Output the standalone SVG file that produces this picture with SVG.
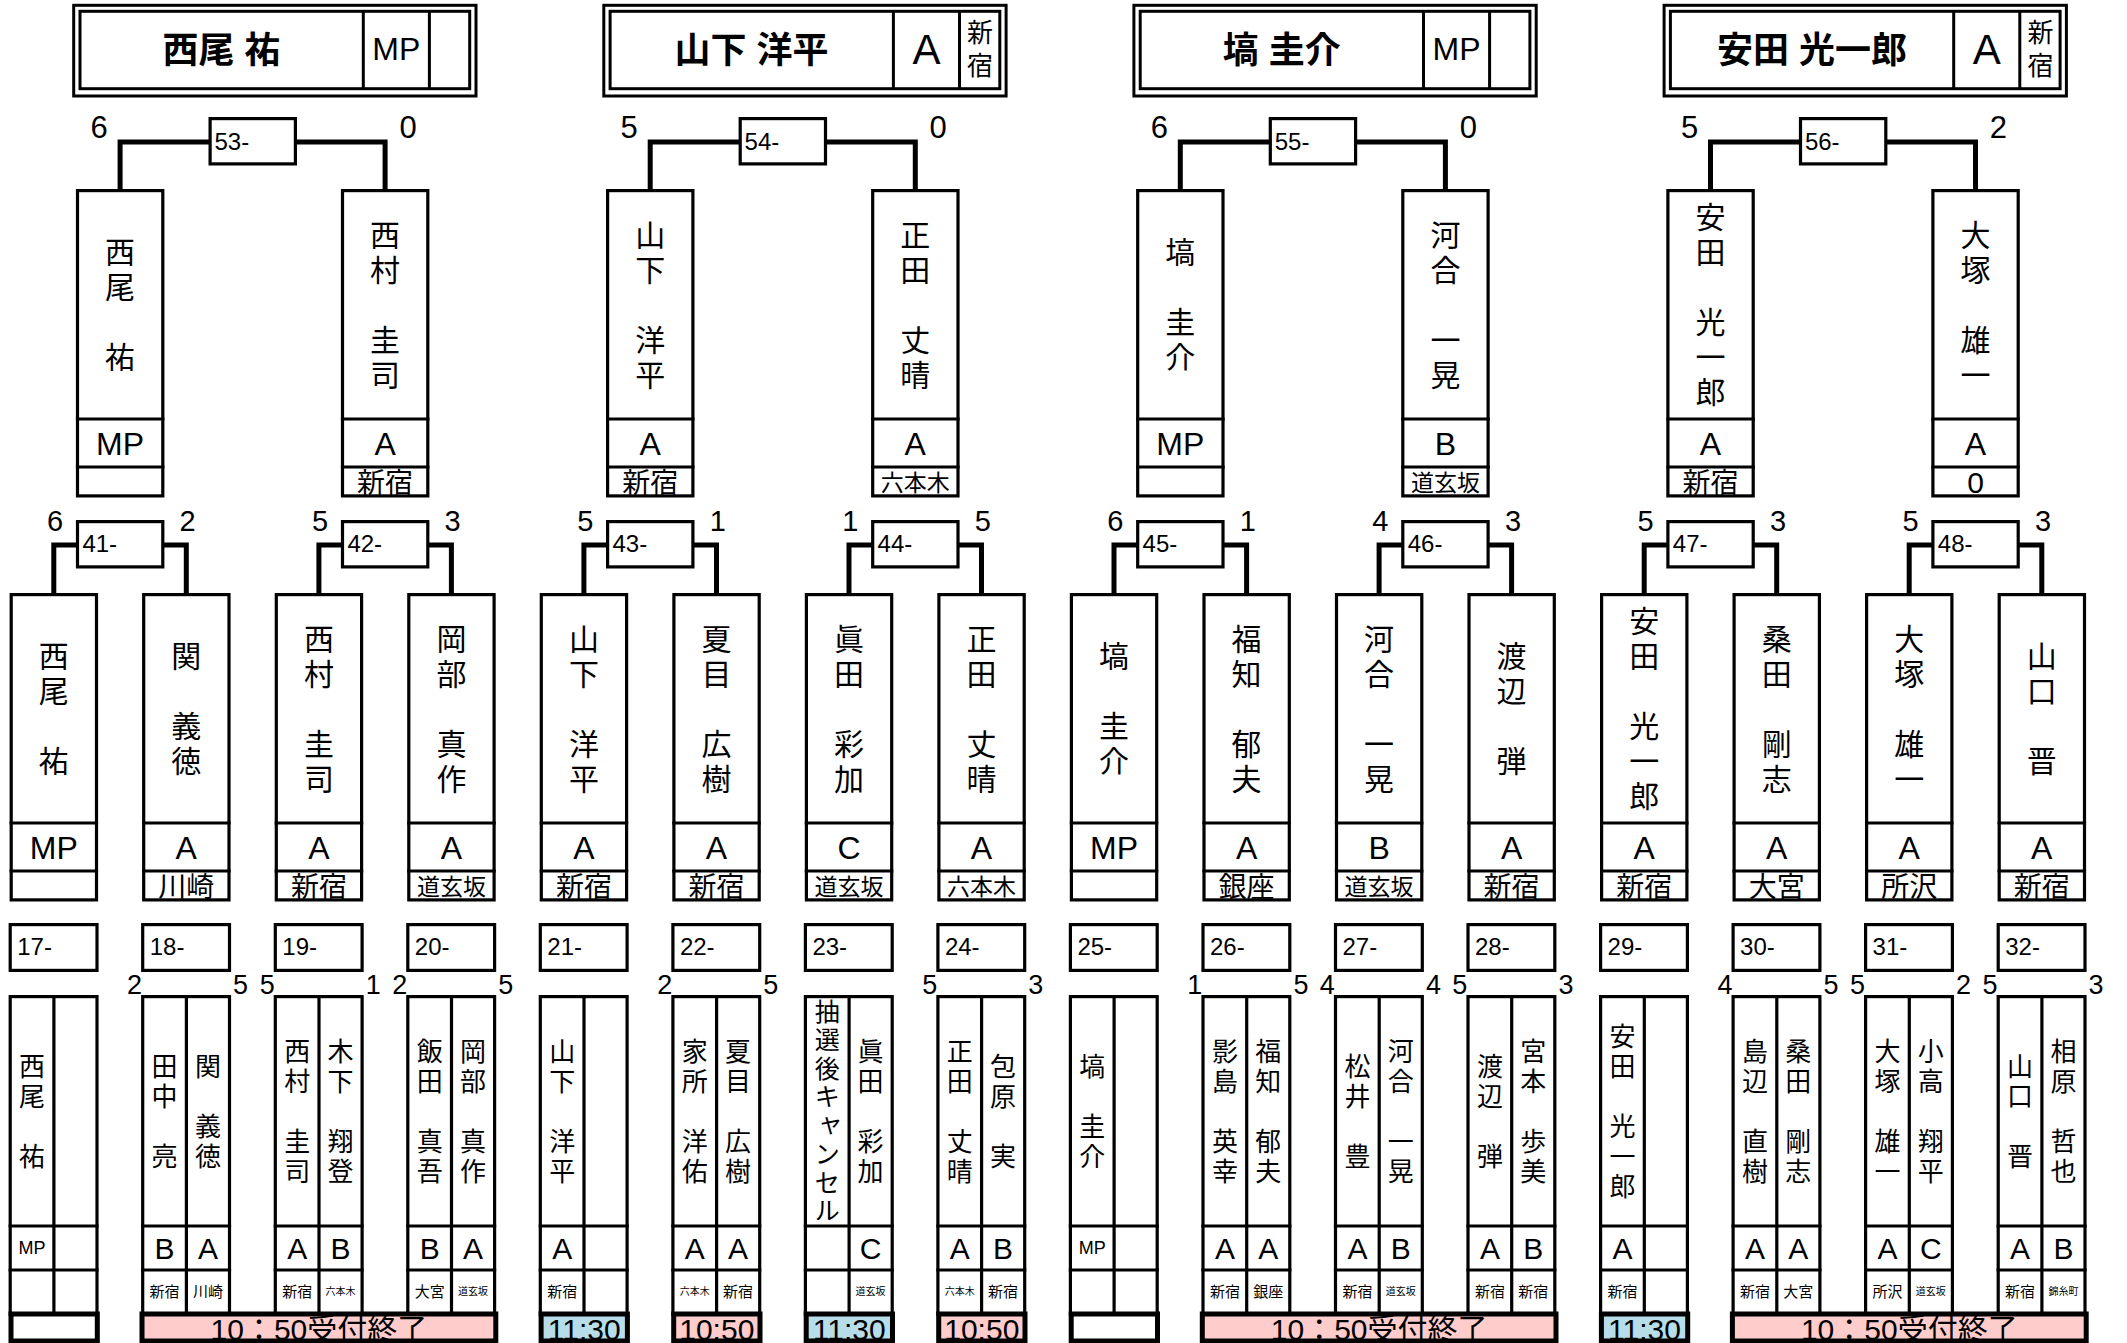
<svg xmlns="http://www.w3.org/2000/svg" width="2127" height="1343" viewBox="0 0 2127 1343">
<defs>
<style>
.fr{fill:#fff;stroke:#000;stroke-width:3.2}
.ln{fill:none;stroke:#000;stroke-width:3.2}
.cn{fill:none;stroke:#000;stroke-width:5}
.tl{fill:none;stroke:#000;stroke-width:3}
.la{font-family:"Liberation Sans","Noto Sans CJK JP",sans-serif;fill:#000}
.jp{font-family:"Noto Sans CJK JP",sans-serif;fill:#000}
.m{text-anchor:middle}
.e{text-anchor:end}
.n1{font-size:30px}
.n2{font-size:26px}
.g1{font-size:32px}
.g2{font-size:30px}
.g3{font-size:18px}
.sc{font-size:31px}
.sm{font-size:29px}
.sb{font-size:27px}
.lb{font-size:24px}
.r1{font-size:28px}
.r2{font-size:23px}
.r3{font-size:15px}
.r4{font-size:10px}
.bar{stroke:#000;stroke-width:5}
.pk{fill:#FFCCCC}
.bl{fill:#B7DEE8}
.wh{fill:#fff}
</style>
<g id="nf"><rect class="fr" x="1.6" y="1.6" width="85.3" height="305.3"/><path class="ln" d="M0 230H88.5M0 278H88.5"/></g>
<g id="pf"><rect class="fr" x="1.6" y="1.6" width="86.8" height="318"/><path class="ln" d="M45.3 0V320M0 231H90M0 275H90"/></g>
<rect id="mb" class="fr" x="1.6" y="1.6" width="85.3" height="45.3"/>
<rect id="bm" class="fr" x="1.6" y="1.6" width="86.8" height="45.8"/>
<g id="tf"><rect x="73.7" y="5.3" width="402.3" height="90.7" fill="#fff" stroke="#000" stroke-width="3"/><rect class="tl" x="80" y="11.3" width="389.7" height="77.4"/><path class="tl" d="M363.3 11.3V88.7M429.4 11.3V88.7"/></g>
</defs>
<rect width="2127" height="1343" fill="#fff"/>

<g id="connectors">
<path class="cn" d="M120.1 190V142H209.5M296 142H385.1V190"/>
<path class="cn" d="M650.2 190V142H739.6M826.1 142H915.3V190"/>
<path class="cn" d="M1180.3 190V142H1269.7M1356.2 142H1445.4V190"/>
<path class="cn" d="M1710.5 190V142H1799.9M1886.4 142H1975.5V190"/>
<path class="cn" d="M53.8 594V545H77M163 545H186.3V594"/>
<path class="cn" d="M318.9 594V545H342M428 545H451.4V594"/>
<path class="cn" d="M583.9 594V545H607M693.5 545H716.5V594"/>
<path class="cn" d="M849 594V545H872M958.6 545H981.5V594"/>
<path class="cn" d="M1114 594V545H1137M1223.6 545H1246.6V594"/>
<path class="cn" d="M1379.1 594V545H1402M1488.7 545H1511.6V594"/>
<path class="cn" d="M1644.2 594V545H1667M1753.8 545H1776.7V594"/>
<path class="cn" d="M1909.2 594V545H1932M2018.8 545H2041.8V594"/>
</g>

<!-- titles -->
<g id="title-1"><use href="#tf"/><text class="la m" x="221.5" y="62.7" font-size="36" font-weight="bold">西尾 祐</text><text class="la m g1" x="396.3" y="60">MP</text></g>
<g id="title-2" transform="translate(530.1,0)"><use href="#tf"/><text class="la m" x="221.5" y="62.7" font-size="36" font-weight="bold">山下 洋平</text><text class="la m" x="396.3" y="63.5" font-size="42">A</text><text class="jp m" font-size="26"><tspan x="450" y="41.9">新</tspan><tspan x="450" y="74.9">宿</tspan></text></g>
<g id="title-3" transform="translate(1060.2,0)"><use href="#tf"/><text class="la m" x="221.5" y="62.7" font-size="36" font-weight="bold">塙 圭介</text><text class="la m g1" x="396.3" y="60">MP</text></g>
<g id="title-4" transform="translate(1590.4,0)"><use href="#tf"/><text class="la m" x="221.5" y="62.7" font-size="36" font-weight="bold">安田 光一郎</text><text class="la m" x="396.3" y="63.5" font-size="42">A</text><text class="jp m" font-size="26"><tspan x="450" y="41.9">新</tspan><tspan x="450" y="74.9">宿</tspan></text></g>

<!-- top matches -->
<g id="m53" transform="translate(208.5,0)"><use href="#mb" y="117"/><text class="la lb" x="6" y="150">53-</text><text class="la m sc" x="-109.4" y="138">6</text><text class="la m sc" x="199.6" y="138">0</text></g>
<g id="m54" transform="translate(738.6,0)"><use href="#mb" y="117"/><text class="la lb" x="6" y="150">54-</text><text class="la m sc" x="-109.4" y="138">5</text><text class="la m sc" x="199.6" y="138">0</text></g>
<g id="m55" transform="translate(1268.7,0)"><use href="#mb" y="117"/><text class="la lb" x="6" y="150">55-</text><text class="la m sc" x="-109.4" y="138">6</text><text class="la m sc" x="199.6" y="138">0</text></g>
<g id="m56" transform="translate(1798.9,0)"><use href="#mb" y="117"/><text class="la lb" x="6" y="150">56-</text><text class="la m sc" x="-109.4" y="138">5</text><text class="la m sc" x="199.6" y="138">2</text></g>

<!-- top nodes -->
<g id="t53a" transform="translate(75.9,0)"><use href="#nf" y="189"/><text class="jp m n1"><tspan x="44.2" y="263.4">西</tspan><tspan x="44.2" y="298.4">尾</tspan><tspan x="44.2" y="368.4">祐</tspan></text><text class="la m g1" x="44.2" y="454.5">MP</text></g>
<g id="t53b" transform="translate(340.9,0)"><use href="#nf" y="189"/><text class="jp m n1"><tspan x="44.2" y="245.9">西</tspan><tspan x="44.2" y="280.9">村</tspan><tspan x="44.2" y="350.9">圭</tspan><tspan x="44.2" y="385.9">司</tspan></text><text class="la m g1" x="44.2" y="454.5">A</text><text class="jp m r1" x="44.2" y="492.8">新宿</text></g>
<g id="t54a" transform="translate(606,0)"><use href="#nf" y="189"/><text class="jp m n1"><tspan x="44.2" y="245.9">山</tspan><tspan x="44.2" y="280.9">下</tspan><tspan x="44.2" y="350.9">洋</tspan><tspan x="44.2" y="385.9">平</tspan></text><text class="la m g1" x="44.2" y="454.5">A</text><text class="jp m r1" x="44.2" y="492.8">新宿</text></g>
<g id="t54b" transform="translate(871.1,0)"><use href="#nf" y="189"/><text class="jp m n1"><tspan x="44.2" y="245.9">正</tspan><tspan x="44.2" y="280.9">田</tspan><tspan x="44.2" y="350.9">丈</tspan><tspan x="44.2" y="385.9">晴</tspan></text><text class="la m g1" x="44.2" y="454.5">A</text><text class="jp m r2" x="44.2" y="490.9">六本木</text></g>
<g id="t55a" transform="translate(1136.1,0)"><use href="#nf" y="189"/><text class="jp m n1"><tspan x="44.2" y="263.4">塙</tspan><tspan x="44.2" y="333.4">圭</tspan><tspan x="44.2" y="368.4">介</tspan></text><text class="la m g1" x="44.2" y="454.5">MP</text></g>
<g id="t55b" transform="translate(1401.2,0)"><use href="#nf" y="189"/><text class="jp m n1"><tspan x="44.2" y="245.9">河</tspan><tspan x="44.2" y="280.9">合</tspan><tspan x="44.2" y="350.9">一</tspan><tspan x="44.2" y="385.9">晃</tspan></text><text class="la m g1" x="44.2" y="454.5">B</text><text class="jp m r2" x="44.2" y="490.9">道玄坂</text></g>
<g id="t56a" transform="translate(1666.3,0)"><use href="#nf" y="189"/><text class="jp m n1"><tspan x="44.2" y="228.4">安</tspan><tspan x="44.2" y="263.4">田</tspan><tspan x="44.2" y="333.4">光</tspan><tspan x="44.2" y="368.4">一</tspan><tspan x="44.2" y="403.4">郎</tspan></text><text class="la m g1" x="44.2" y="454.5">A</text><text class="jp m r1" x="44.2" y="492.8">新宿</text></g>
<g id="t56b" transform="translate(1931.3,0)"><use href="#nf" y="189"/><text class="jp m n1"><tspan x="44.2" y="245.9">大</tspan><tspan x="44.2" y="280.9">塚</tspan><tspan x="44.2" y="350.9">雄</tspan><tspan x="44.2" y="385.9">一</tspan></text><text class="la m g1" x="44.2" y="454.5">A</text><text class="la m g2" x="44.2" y="492.9">0</text></g>

<!-- middle matches -->
<g id="m41" transform="translate(75.9,0)"><use href="#mb" y="520"/><text class="la lb" x="6.5" y="552">41-</text><text class="la m sm" x="-20.8" y="531">6</text><text class="la m sm" x="111.8" y="531">2</text></g>
<g id="m42" transform="translate(340.9,0)"><use href="#mb" y="520"/><text class="la lb" x="6.5" y="552">42-</text><text class="la m sm" x="-20.8" y="531">5</text><text class="la m sm" x="111.8" y="531">3</text></g>
<g id="m43" transform="translate(606,0)"><use href="#mb" y="520"/><text class="la lb" x="6.5" y="552">43-</text><text class="la m sm" x="-20.8" y="531">5</text><text class="la m sm" x="111.8" y="531">1</text></g>
<g id="m44" transform="translate(871.1,0)"><use href="#mb" y="520"/><text class="la lb" x="6.5" y="552">44-</text><text class="la m sm" x="-20.8" y="531">1</text><text class="la m sm" x="111.8" y="531">5</text></g>
<g id="m45" transform="translate(1136.1,0)"><use href="#mb" y="520"/><text class="la lb" x="6.5" y="552">45-</text><text class="la m sm" x="-20.8" y="531">6</text><text class="la m sm" x="111.8" y="531">1</text></g>
<g id="m46" transform="translate(1401.2,0)"><use href="#mb" y="520"/><text class="la lb" x="6.5" y="552">46-</text><text class="la m sm" x="-20.8" y="531">4</text><text class="la m sm" x="111.8" y="531">3</text></g>
<g id="m47" transform="translate(1666.3,0)"><use href="#mb" y="520"/><text class="la lb" x="6.5" y="552">47-</text><text class="la m sm" x="-20.8" y="531">5</text><text class="la m sm" x="111.8" y="531">3</text></g>
<g id="m48" transform="translate(1931.3,0)"><use href="#mb" y="520"/><text class="la lb" x="6.5" y="552">48-</text><text class="la m sm" x="-20.8" y="531">5</text><text class="la m sm" x="111.8" y="531">3</text></g>

<!-- middle nodes -->
<g id="q01" transform="translate(9.6,0)"><use href="#nf" y="593"/><text class="jp m n1"><tspan x="44.2" y="667.4">西</tspan><tspan x="44.2" y="702.4">尾</tspan><tspan x="44.2" y="772.4">祐</tspan></text><text class="la m g1" x="44.2" y="858.5">MP</text></g>
<g id="q02" transform="translate(142.1,0)"><use href="#nf" y="593"/><text class="jp m n1"><tspan x="44.2" y="667.4">関</tspan><tspan x="44.2" y="737.4">義</tspan><tspan x="44.2" y="772.4">徳</tspan></text><text class="la m g1" x="44.2" y="858.5">A</text><text class="jp m r1" x="44.2" y="896.8">川崎</text></g>
<g id="q03" transform="translate(274.7,0)"><use href="#nf" y="593"/><text class="jp m n1"><tspan x="44.2" y="649.9">西</tspan><tspan x="44.2" y="684.9">村</tspan><tspan x="44.2" y="754.9">圭</tspan><tspan x="44.2" y="789.9">司</tspan></text><text class="la m g1" x="44.2" y="858.5">A</text><text class="jp m r1" x="44.2" y="896.8">新宿</text></g>
<g id="q04" transform="translate(407.2,0)"><use href="#nf" y="593"/><text class="jp m n1"><tspan x="44.2" y="649.9">岡</tspan><tspan x="44.2" y="684.9">部</tspan><tspan x="44.2" y="754.9">真</tspan><tspan x="44.2" y="789.9">作</tspan></text><text class="la m g1" x="44.2" y="858.5">A</text><text class="jp m r2" x="44.2" y="894.9">道玄坂</text></g>
<g id="q05" transform="translate(539.7,0)"><use href="#nf" y="593"/><text class="jp m n1"><tspan x="44.2" y="649.9">山</tspan><tspan x="44.2" y="684.9">下</tspan><tspan x="44.2" y="754.9">洋</tspan><tspan x="44.2" y="789.9">平</tspan></text><text class="la m g1" x="44.2" y="858.5">A</text><text class="jp m r1" x="44.2" y="896.8">新宿</text></g>
<g id="q06" transform="translate(672.3,0)"><use href="#nf" y="593"/><text class="jp m n1"><tspan x="44.2" y="649.9">夏</tspan><tspan x="44.2" y="684.9">目</tspan><tspan x="44.2" y="754.9">広</tspan><tspan x="44.2" y="789.9">樹</tspan></text><text class="la m g1" x="44.2" y="858.5">A</text><text class="jp m r1" x="44.2" y="896.8">新宿</text></g>
<g id="q07" transform="translate(804.8,0)"><use href="#nf" y="593"/><text class="jp m n1"><tspan x="44.2" y="649.9">眞</tspan><tspan x="44.2" y="684.9">田</tspan><tspan x="44.2" y="754.9">彩</tspan><tspan x="44.2" y="789.9">加</tspan></text><text class="la m g1" x="44.2" y="858.5">C</text><text class="jp m r2" x="44.2" y="894.9">道玄坂</text></g>
<g id="q08" transform="translate(937.3,0)"><use href="#nf" y="593"/><text class="jp m n1"><tspan x="44.2" y="649.9">正</tspan><tspan x="44.2" y="684.9">田</tspan><tspan x="44.2" y="754.9">丈</tspan><tspan x="44.2" y="789.9">晴</tspan></text><text class="la m g1" x="44.2" y="858.5">A</text><text class="jp m r2" x="44.2" y="894.9">六本木</text></g>
<g id="q09" transform="translate(1069.8,0)"><use href="#nf" y="593"/><text class="jp m n1"><tspan x="44.2" y="667.4">塙</tspan><tspan x="44.2" y="737.4">圭</tspan><tspan x="44.2" y="772.4">介</tspan></text><text class="la m g1" x="44.2" y="858.5">MP</text></g>
<g id="q10" transform="translate(1202.4,0)"><use href="#nf" y="593"/><text class="jp m n1"><tspan x="44.2" y="649.9">福</tspan><tspan x="44.2" y="684.9">知</tspan><tspan x="44.2" y="754.9">郁</tspan><tspan x="44.2" y="789.9">夫</tspan></text><text class="la m g1" x="44.2" y="858.5">A</text><text class="jp m r1" x="44.2" y="896.8">銀座</text></g>
<g id="q11" transform="translate(1334.9,0)"><use href="#nf" y="593"/><text class="jp m n1"><tspan x="44.2" y="649.9">河</tspan><tspan x="44.2" y="684.9">合</tspan><tspan x="44.2" y="754.9">一</tspan><tspan x="44.2" y="789.9">晃</tspan></text><text class="la m g1" x="44.2" y="858.5">B</text><text class="jp m r2" x="44.2" y="894.9">道玄坂</text></g>
<g id="q12" transform="translate(1467.4,0)"><use href="#nf" y="593"/><text class="jp m n1"><tspan x="44.2" y="667.4">渡</tspan><tspan x="44.2" y="702.4">辺</tspan><tspan x="44.2" y="772.4">弾</tspan></text><text class="la m g1" x="44.2" y="858.5">A</text><text class="jp m r1" x="44.2" y="896.8">新宿</text></g>
<g id="q13" transform="translate(1600,0)"><use href="#nf" y="593"/><text class="jp m n1"><tspan x="44.2" y="632.4">安</tspan><tspan x="44.2" y="667.4">田</tspan><tspan x="44.2" y="737.4">光</tspan><tspan x="44.2" y="772.4">一</tspan><tspan x="44.2" y="807.4">郎</tspan></text><text class="la m g1" x="44.2" y="858.5">A</text><text class="jp m r1" x="44.2" y="896.8">新宿</text></g>
<g id="q14" transform="translate(1732.5,0)"><use href="#nf" y="593"/><text class="jp m n1"><tspan x="44.2" y="649.9">桑</tspan><tspan x="44.2" y="684.9">田</tspan><tspan x="44.2" y="754.9">剛</tspan><tspan x="44.2" y="789.9">志</tspan></text><text class="la m g1" x="44.2" y="858.5">A</text><text class="jp m r1" x="44.2" y="896.8">大宮</text></g>
<g id="q15" transform="translate(1865,0)"><use href="#nf" y="593"/><text class="jp m n1"><tspan x="44.2" y="649.9">大</tspan><tspan x="44.2" y="684.9">塚</tspan><tspan x="44.2" y="754.9">雄</tspan><tspan x="44.2" y="789.9">一</tspan></text><text class="la m g1" x="44.2" y="858.5">A</text><text class="jp m r1" x="44.2" y="896.8">所沢</text></g>
<g id="q16" transform="translate(1997.6,0)"><use href="#nf" y="593"/><text class="jp m n1"><tspan x="44.2" y="667.4">山</tspan><tspan x="44.2" y="702.4">口</tspan><tspan x="44.2" y="772.4">晋</tspan></text><text class="la m g1" x="44.2" y="858.5">A</text><text class="jp m r1" x="44.2" y="896.8">新宿</text></g>

<!-- bottom pairs -->
<g id="p17" transform="translate(8.6,0)"><use href="#bm" y="923"/><text class="la lb" x="8.6" y="955">17-</text><use href="#pf" y="995"/>
<text class="jp m n2"><tspan x="23.5" y="1075.9">西</tspan><tspan x="23.5" y="1105.9">尾</tspan><tspan x="23.5" y="1165.9">祐</tspan></text>
<text class="la m g3" x="23.5" y="1254.4">MP</text></g>

<g id="p18" transform="translate(141.1,0)"><use href="#bm" y="923"/><text class="la lb" x="8.6" y="955">18-</text><use href="#pf" y="995"/>
<text class="jp m n2"><tspan x="23.5" y="1075.9">田</tspan><tspan x="23.5" y="1105.9">中</tspan><tspan x="23.5" y="1165.9">亮</tspan></text>
<text class="jp m n2"><tspan x="66.8" y="1075.9">関</tspan><tspan x="66.8" y="1135.9">義</tspan><tspan x="66.8" y="1165.9">徳</tspan></text>
<text class="la m g2" x="23.5" y="1258.7">B</text><text class="la m g2" x="66.8" y="1258.7">A</text>
<text class="jp m r3" x="23.5" y="1297">新宿</text><text class="jp m r3" x="66.8" y="1297">川崎</text>
<text class="la e sb" x="1" y="994">2</text><text class="la sb" x="92" y="994">5</text></g>

<g id="p19" transform="translate(273.7,0)"><use href="#bm" y="923"/><text class="la lb" x="8.6" y="955">19-</text><use href="#pf" y="995"/>
<text class="jp m n2"><tspan x="23.5" y="1060.9">西</tspan><tspan x="23.5" y="1090.9">村</tspan><tspan x="23.5" y="1150.9">圭</tspan><tspan x="23.5" y="1180.9">司</tspan></text>
<text class="jp m n2"><tspan x="66.8" y="1060.9">木</tspan><tspan x="66.8" y="1090.9">下</tspan><tspan x="66.8" y="1150.9">翔</tspan><tspan x="66.8" y="1180.9">登</tspan></text>
<text class="la m g2" x="23.5" y="1258.7">A</text><text class="la m g2" x="66.8" y="1258.7">B</text>
<text class="jp m r3" x="23.5" y="1297">新宿</text><text class="jp m r4" x="66.8" y="1295.3">六本木</text>
<text class="la e sb" x="1" y="994">5</text><text class="la sb" x="92" y="994">1</text></g>

<g id="p20" transform="translate(406.2,0)"><use href="#bm" y="923"/><text class="la lb" x="8.6" y="955">20-</text><use href="#pf" y="995"/>
<text class="jp m n2"><tspan x="23.5" y="1060.9">飯</tspan><tspan x="23.5" y="1090.9">田</tspan><tspan x="23.5" y="1150.9">真</tspan><tspan x="23.5" y="1180.9">吾</tspan></text>
<text class="jp m n2"><tspan x="66.8" y="1060.9">岡</tspan><tspan x="66.8" y="1090.9">部</tspan><tspan x="66.8" y="1150.9">真</tspan><tspan x="66.8" y="1180.9">作</tspan></text>
<text class="la m g2" x="23.5" y="1258.7">B</text><text class="la m g2" x="66.8" y="1258.7">A</text>
<text class="jp m r3" x="23.5" y="1297">大宮</text><text class="jp m r4" x="66.8" y="1295.3">道玄坂</text>
<text class="la e sb" x="1" y="994">2</text><text class="la sb" x="92" y="994">5</text></g>

<g id="p21" transform="translate(538.7,0)"><use href="#bm" y="923"/><text class="la lb" x="8.6" y="955">21-</text><use href="#pf" y="995"/>
<text class="jp m n2"><tspan x="23.5" y="1060.9">山</tspan><tspan x="23.5" y="1090.9">下</tspan><tspan x="23.5" y="1150.9">洋</tspan><tspan x="23.5" y="1180.9">平</tspan></text>
<text class="la m g2" x="23.5" y="1258.7">A</text>
<text class="jp m r3" x="23.5" y="1297">新宿</text></g>

<g id="p22" transform="translate(671.3,0)"><use href="#bm" y="923"/><text class="la lb" x="8.6" y="955">22-</text><use href="#pf" y="995"/>
<text class="jp m n2"><tspan x="23.5" y="1060.9">家</tspan><tspan x="23.5" y="1090.9">所</tspan><tspan x="23.5" y="1150.9">洋</tspan><tspan x="23.5" y="1180.9">佑</tspan></text>
<text class="jp m n2"><tspan x="66.8" y="1060.9">夏</tspan><tspan x="66.8" y="1090.9">目</tspan><tspan x="66.8" y="1150.9">広</tspan><tspan x="66.8" y="1180.9">樹</tspan></text>
<text class="la m g2" x="23.5" y="1258.7">A</text><text class="la m g2" x="66.8" y="1258.7">A</text>
<text class="jp m r4" x="23.5" y="1295.3">六本木</text><text class="jp m r3" x="66.8" y="1297">新宿</text>
<text class="la e sb" x="1" y="994">2</text><text class="la sb" x="92" y="994">5</text></g>

<g id="p23" transform="translate(803.8,0)"><use href="#bm" y="923"/><text class="la lb" x="8.6" y="955">23-</text><use href="#pf" y="995"/>
<text class="jp m" font-size="25"><tspan x="23.5" y="1020.8">抽</tspan><tspan x="23.5" y="1049.3">選</tspan><tspan x="23.5" y="1077.8">後</tspan><tspan x="23.5" y="1106.3">キ</tspan><tspan x="26.5" y="1132.3">ャ</tspan><tspan x="23.5" y="1163.3">ン</tspan><tspan x="23.5" y="1191.8">セ</tspan><tspan x="23.5" y="1220.3">ル</tspan></text>
<text class="jp m n2"><tspan x="66.8" y="1060.9">眞</tspan><tspan x="66.8" y="1090.9">田</tspan><tspan x="66.8" y="1150.9">彩</tspan><tspan x="66.8" y="1180.9">加</tspan></text>
<text class="la m g2" x="66.8" y="1258.7">C</text>
<text class="jp m r4" x="66.8" y="1295.3">道玄坂</text></g>

<g id="p24" transform="translate(936.3,0)"><use href="#bm" y="923"/><text class="la lb" x="8.6" y="955">24-</text><use href="#pf" y="995"/>
<text class="jp m n2"><tspan x="23.5" y="1060.9">正</tspan><tspan x="23.5" y="1090.9">田</tspan><tspan x="23.5" y="1150.9">丈</tspan><tspan x="23.5" y="1180.9">晴</tspan></text>
<text class="jp m n2"><tspan x="66.8" y="1075.9">包</tspan><tspan x="66.8" y="1105.9">原</tspan><tspan x="66.8" y="1165.9">実</tspan></text>
<text class="la m g2" x="23.5" y="1258.7">A</text><text class="la m g2" x="66.8" y="1258.7">B</text>
<text class="jp m r4" x="23.5" y="1295.3">六本木</text><text class="jp m r3" x="66.8" y="1297">新宿</text>
<text class="la e sb" x="1" y="994">5</text><text class="la sb" x="92" y="994">3</text></g>

<g id="p25" transform="translate(1068.8,0)"><use href="#bm" y="923"/><text class="la lb" x="8.6" y="955">25-</text><use href="#pf" y="995"/>
<text class="jp m n2"><tspan x="23.5" y="1075.9">塙</tspan><tspan x="23.5" y="1135.9">圭</tspan><tspan x="23.5" y="1165.9">介</tspan></text>
<text class="la m g3" x="23.5" y="1254.4">MP</text></g>

<g id="p26" transform="translate(1201.4,0)"><use href="#bm" y="923"/><text class="la lb" x="8.6" y="955">26-</text><use href="#pf" y="995"/>
<text class="jp m n2"><tspan x="23.5" y="1060.9">影</tspan><tspan x="23.5" y="1090.9">島</tspan><tspan x="23.5" y="1150.9">英</tspan><tspan x="23.5" y="1180.9">幸</tspan></text>
<text class="jp m n2"><tspan x="66.8" y="1060.9">福</tspan><tspan x="66.8" y="1090.9">知</tspan><tspan x="66.8" y="1150.9">郁</tspan><tspan x="66.8" y="1180.9">夫</tspan></text>
<text class="la m g2" x="23.5" y="1258.7">A</text><text class="la m g2" x="66.8" y="1258.7">A</text>
<text class="jp m r3" x="23.5" y="1297">新宿</text><text class="jp m r3" x="66.8" y="1297">銀座</text>
<text class="la e sb" x="1" y="994">1</text><text class="la sb" x="92" y="994">5</text></g>

<g id="p27" transform="translate(1333.9,0)"><use href="#bm" y="923"/><text class="la lb" x="8.6" y="955">27-</text><use href="#pf" y="995"/>
<text class="jp m n2"><tspan x="23.5" y="1075.9">松</tspan><tspan x="23.5" y="1105.9">井</tspan><tspan x="23.5" y="1165.9">豊</tspan></text>
<text class="jp m n2"><tspan x="66.8" y="1060.9">河</tspan><tspan x="66.8" y="1090.9">合</tspan><tspan x="66.8" y="1150.9">一</tspan><tspan x="66.8" y="1180.9">晃</tspan></text>
<text class="la m g2" x="23.5" y="1258.7">A</text><text class="la m g2" x="66.8" y="1258.7">B</text>
<text class="jp m r3" x="23.5" y="1297">新宿</text><text class="jp m r4" x="66.8" y="1295.3">道玄坂</text>
<text class="la e sb" x="1" y="994">4</text><text class="la sb" x="92" y="994">4</text></g>

<g id="p28" transform="translate(1466.4,0)"><use href="#bm" y="923"/><text class="la lb" x="8.6" y="955">28-</text><use href="#pf" y="995"/>
<text class="jp m n2"><tspan x="23.5" y="1075.9">渡</tspan><tspan x="23.5" y="1105.9">辺</tspan><tspan x="23.5" y="1165.9">弾</tspan></text>
<text class="jp m n2"><tspan x="66.8" y="1060.9">宮</tspan><tspan x="66.8" y="1090.9">本</tspan><tspan x="66.8" y="1150.9">歩</tspan><tspan x="66.8" y="1180.9">美</tspan></text>
<text class="la m g2" x="23.5" y="1258.7">A</text><text class="la m g2" x="66.8" y="1258.7">B</text>
<text class="jp m r3" x="23.5" y="1297">新宿</text><text class="jp m r3" x="66.8" y="1297">新宿</text>
<text class="la e sb" x="1" y="994">5</text><text class="la sb" x="92" y="994">3</text></g>

<g id="p29" transform="translate(1599,0)"><use href="#bm" y="923"/><text class="la lb" x="8.6" y="955">29-</text><use href="#pf" y="995"/>
<text class="jp m n2"><tspan x="23.5" y="1045.9">安</tspan><tspan x="23.5" y="1075.9">田</tspan><tspan x="23.5" y="1135.9">光</tspan><tspan x="23.5" y="1165.9">一</tspan><tspan x="23.5" y="1195.9">郎</tspan></text>
<text class="la m g2" x="23.5" y="1258.7">A</text>
<text class="jp m r3" x="23.5" y="1297">新宿</text></g>

<g id="p30" transform="translate(1731.5,0)"><use href="#bm" y="923"/><text class="la lb" x="8.6" y="955">30-</text><use href="#pf" y="995"/>
<text class="jp m n2"><tspan x="23.5" y="1060.9">島</tspan><tspan x="23.5" y="1090.9">辺</tspan><tspan x="23.5" y="1150.9">直</tspan><tspan x="23.5" y="1180.9">樹</tspan></text>
<text class="jp m n2"><tspan x="66.8" y="1060.9">桑</tspan><tspan x="66.8" y="1090.9">田</tspan><tspan x="66.8" y="1150.9">剛</tspan><tspan x="66.8" y="1180.9">志</tspan></text>
<text class="la m g2" x="23.5" y="1258.7">A</text><text class="la m g2" x="66.8" y="1258.7">A</text>
<text class="jp m r3" x="23.5" y="1297">新宿</text><text class="jp m r3" x="66.8" y="1297">大宮</text>
<text class="la e sb" x="1" y="994">4</text><text class="la sb" x="92" y="994">5</text></g>

<g id="p31" transform="translate(1864,0)"><use href="#bm" y="923"/><text class="la lb" x="8.6" y="955">31-</text><use href="#pf" y="995"/>
<text class="jp m n2"><tspan x="23.5" y="1060.9">大</tspan><tspan x="23.5" y="1090.9">塚</tspan><tspan x="23.5" y="1150.9">雄</tspan><tspan x="23.5" y="1180.9">一</tspan></text>
<text class="jp m n2"><tspan x="66.8" y="1060.9">小</tspan><tspan x="66.8" y="1090.9">高</tspan><tspan x="66.8" y="1150.9">翔</tspan><tspan x="66.8" y="1180.9">平</tspan></text>
<text class="la m g2" x="23.5" y="1258.7">A</text><text class="la m g2" x="66.8" y="1258.7">C</text>
<text class="jp m r3" x="23.5" y="1297">所沢</text><text class="jp m r4" x="66.8" y="1295.3">道玄坂</text>
<text class="la e sb" x="1" y="994">5</text><text class="la sb" x="92" y="994">2</text></g>

<g id="p32" transform="translate(1996.6,0)"><use href="#bm" y="923"/><text class="la lb" x="8.6" y="955">32-</text><use href="#pf" y="995"/>
<text class="jp m n2"><tspan x="23.5" y="1075.9">山</tspan><tspan x="23.5" y="1105.9">口</tspan><tspan x="23.5" y="1165.9">晋</tspan></text>
<text class="jp m n2"><tspan x="66.8" y="1060.9">相</tspan><tspan x="66.8" y="1090.9">原</tspan><tspan x="66.8" y="1150.9">哲</tspan><tspan x="66.8" y="1180.9">也</tspan></text>
<text class="la m g2" x="23.5" y="1258.7">A</text><text class="la m g2" x="66.8" y="1258.7">B</text>
<text class="jp m r3" x="23.5" y="1297">新宿</text><text class="jp m r4" x="66.8" y="1295.3">錦糸町</text>
<text class="la e sb" x="1" y="994">5</text><text class="la sb" x="92" y="994">3</text></g>

<!-- reception bars -->
<g id="bars">
<rect class="bar wh" x="11" y="1314" width="86.3" height="27"/>
<rect class="bar pk" x="142" y="1314" width="353.8" height="27"/>
<text class="la m g2" x="318.9" y="1340">10：50受付終了</text>
<rect class="bar bl" x="541.1" y="1314" width="86.3" height="27"/>
<text class="la m g2" x="584.2" y="1340">11:30</text>
<rect class="bar pk" x="673.7" y="1314" width="86.3" height="27"/>
<text class="la m g2" x="716.8" y="1340">10:50</text>
<rect class="bar bl" x="806.2" y="1314" width="86.3" height="27"/>
<text class="la m g2" x="849.3" y="1340">11:30</text>
<rect class="bar pk" x="938.7" y="1314" width="86.3" height="27"/>
<text class="la m g2" x="981.8" y="1340">10:50</text>
<rect class="bar wh" x="1071.2" y="1314" width="86.3" height="27"/>
<rect class="bar pk" x="1202.3" y="1314" width="353.7" height="27"/>
<text class="la m g2" x="1379.2" y="1340">10：50受付終了</text>
<rect class="bar bl" x="1601.4" y="1314" width="86.3" height="27"/>
<text class="la m g2" x="1644.5" y="1340">11:30</text>
<rect class="bar pk" x="1732.4" y="1314" width="353.8" height="27"/>
<text class="la m g2" x="1909.3" y="1340">10：50受付終了</text>
</g>
</svg>
